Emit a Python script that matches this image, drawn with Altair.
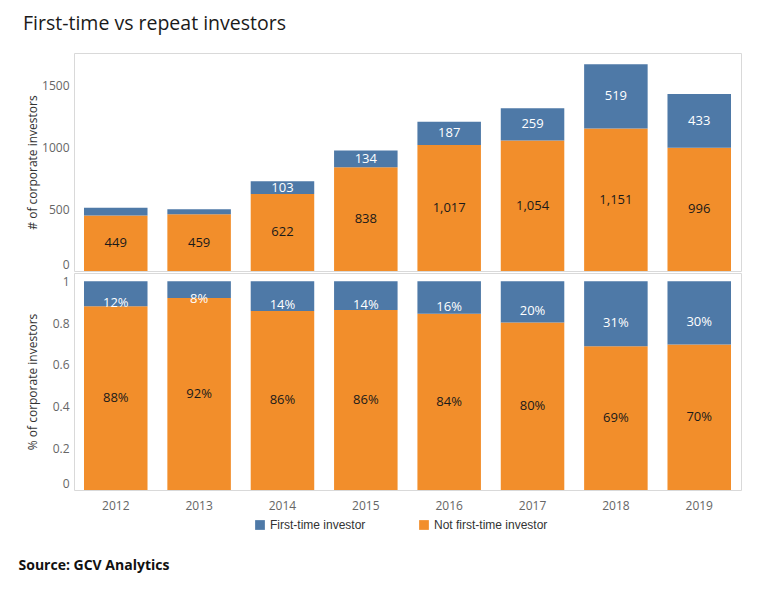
import altair as alt
import pandas as pd

years = ["2012", "2013", "2014", "2015", "2016", "2017", "2018", "2019"]
first_time = [61, 40, 103, 134, 187, 259, 519, 433]
repeat = [449, 459, 622, 838, 1017, 1054, 1151, 996]
series = ["First-time investor", "Not first-time investor"]
colors = ["#4E79A7", "#F28E2B"]
count_ticks = [0, 500, 1000, 1500]
share_ticks = [0, 0.2, 0.4, 0.6, 0.8, 1]

rows = []
for yr, f, r in zip(years, first_time, repeat):
    tot = f + r
    rows.append(dict(year=yr, series=series[1], value=r, c0=0, c1=r, s0=0, s1=r / tot))
    rows.append(dict(year=yr, series=series[0], value=f, c0=r, c1=tot, s0=r / tot, s1=1.0))
df = pd.DataFrame(rows)
df["cmid"] = (df.c0 + df.c1) / 2
df["smid"] = (df.s0 + df.s1) / 2
df["share"] = df.s1 - df.s0
df["count_label"] = df.value.map(lambda v: f"{v:,}")
df["share_label"] = (df.share * 100).round().astype(int).astype(str) + "%"
df["show_count"] = df.value >= 80
df["first"] = df.series == series[0]

FONT = "Open Sans"
W, H1, H2 = 667, 218, 217

xscale = alt.Scale(paddingInner=0.238, paddingOuter=0.12)
color = alt.Color(
    "series:N",
    scale=alt.Scale(domain=series, range=colors),
    legend=alt.Legend(title=None, orient="none", direction="horizontal",
                      legendX=180, legendY=466,
                      symbolType="square", symbolSize=95, symbolStrokeWidth=0,
                      labelFont="Liberation Sans", labelFontSize=12, labelColor="#333",
                      columnPadding=52),
)

base = alt.Chart(df)

top_bars = base.mark_bar().encode(
    x=alt.X("year:N", scale=xscale, axis=None),
    y=alt.Y("c0:Q", scale=alt.Scale(domain=[0, 1760], nice=False),
            axis=alt.Axis(values=count_ticks, format="d", title="# of corporate investors",
                          labelFlush=True, titleX=-35)),
    y2="c1:Q",
    color=color,
)
top_text = base.transform_filter("datum.show_count").mark_text(
    font=FONT, fontSize=13
).encode(
    x=alt.X("year:N", scale=xscale, axis=None),
    y=alt.Y("cmid:Q"),
    text="count_label:N",
    color=alt.condition("datum.first", alt.value("white"), alt.value("#1a1a1a")),
)
top = alt.layer(top_bars, top_text).properties(
    width=W, height=H1,
    title=alt.TitleParams("First-time vs repeat investors", anchor="start", frame="bounds",
                          font=FONT, fontSize=19.5, fontWeight="normal", color="#1a1a1a",
                          offset=19, dx=-3),
)

bot_bars = base.mark_bar().encode(
    x=alt.X("year:N", scale=xscale,
            axis=alt.Axis(title=None, labelAngle=0, labelPadding=10)),
    y=alt.Y("s0:Q", scale=alt.Scale(domain=[0, 1.04], nice=False),
            axis=alt.Axis(values=share_ticks, format="~g", title="% of corporate investors",
                          labelFlush=True, titleX=-35)),
    y2="s1:Q",
    color=color,
)
bot_text_rep = base.transform_filter("!datum.first").mark_text(
    font=FONT, fontSize=13, color="#1a1a1a"
).encode(
    x=alt.X("year:N", scale=xscale),
    y=alt.Y("smid:Q"),
    text="share_label:N",
)
bot_text_first = base.transform_filter("datum.first").mark_text(
    font=FONT, fontSize=13, color="white", dy=9
).encode(
    x=alt.X("year:N", scale=xscale),
    y=alt.Y("smid:Q"),
    text="share_label:N",
)
bottom = alt.layer(bot_bars, bot_text_rep, bot_text_first).properties(width=W, height=H2)

chart = alt.vconcat(top, bottom, spacing=0).properties(
    title=alt.TitleParams("Source: GCV Analytics", orient="bottom", anchor="start",
                          frame="bounds", font=FONT, fontSize=14, fontWeight="bold",
                          color="#111", offset=28, dx=-4),
    padding={"left": 10, "top": 5, "right": 10, "bottom": 5},
    background="white",
).configure_view(
    stroke="#d9d9d9", strokeWidth=1
).configure_axis(
    grid=False, ticks=False, domain=False,
    labelFont=FONT, labelFontSize=12, labelColor="#666", labelPadding=5,
    titleFont=FONT, titleFontSize=12, titleColor="#333", titleFontWeight="normal",
)

chart.save("out.html", embed_options={"renderer": "svg", "actions": False})
